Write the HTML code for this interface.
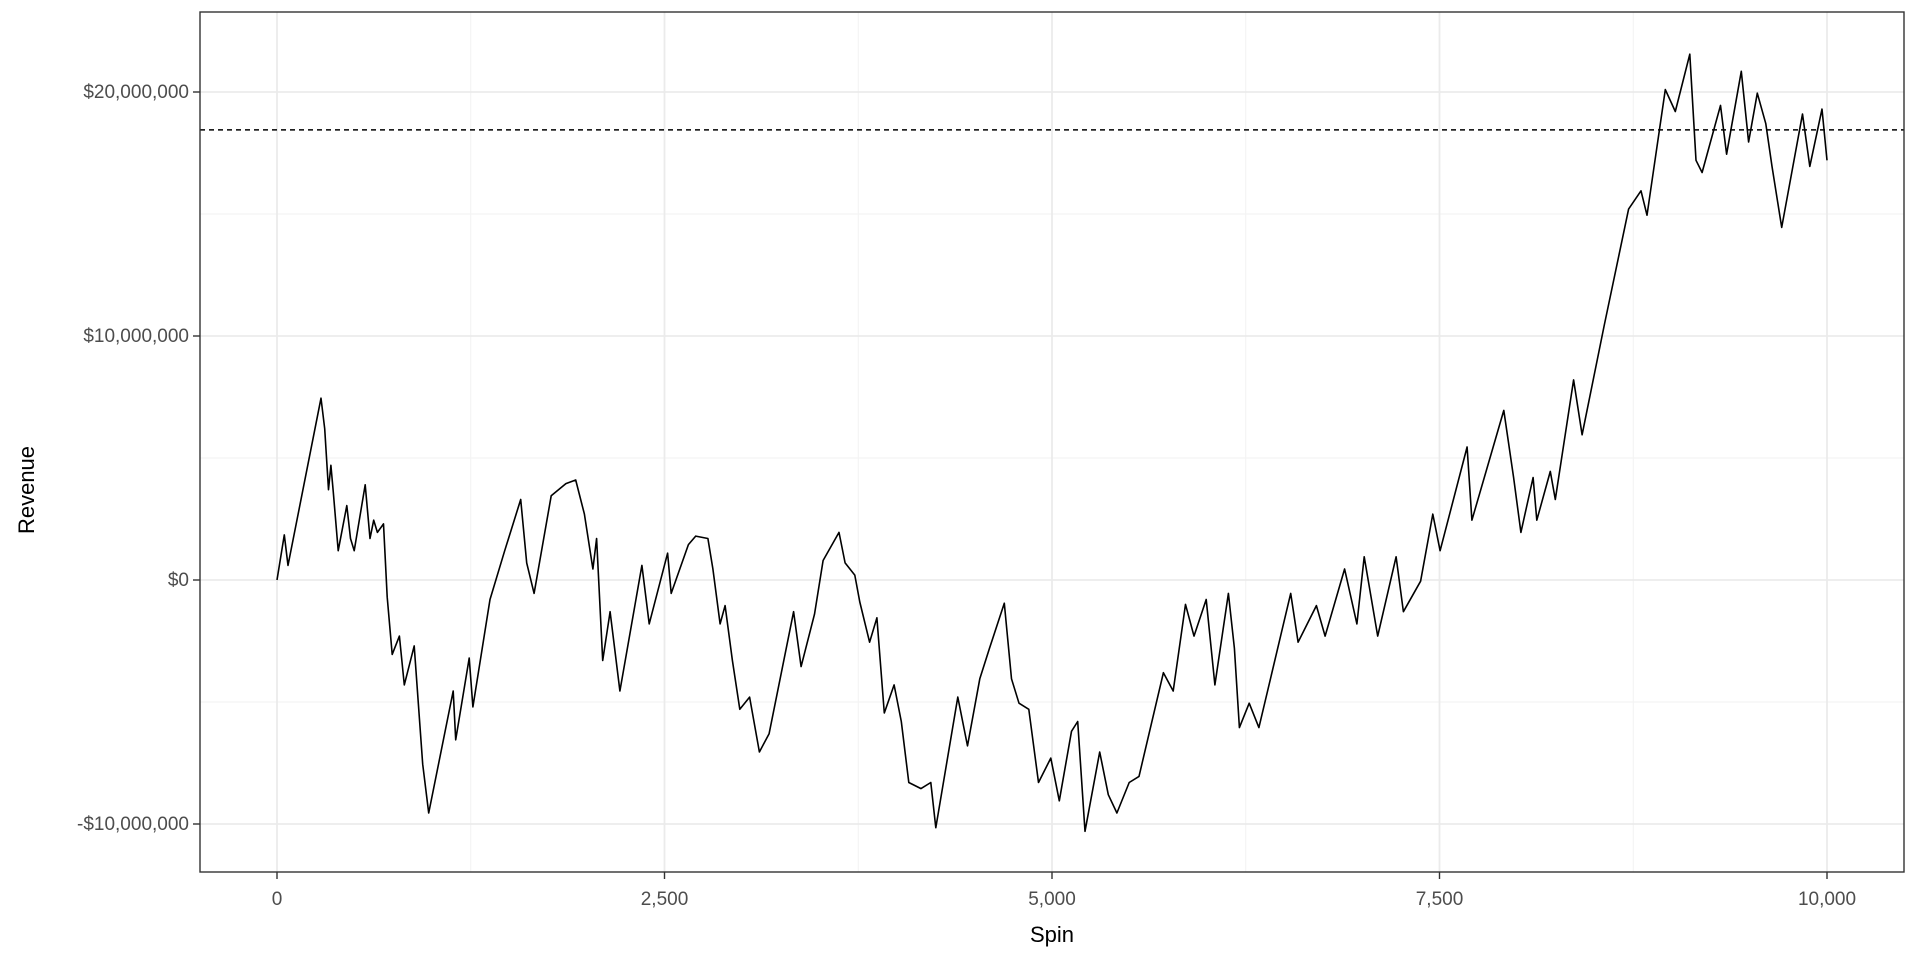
<!DOCTYPE html>
<html><head><meta charset="utf-8"><style>
body{margin:0;background:#fff;}
svg{display:block;font-family:"Liberation Sans",Arial,sans-serif;}
</style></head><body>
<svg id="chart" width="1920" height="960" viewBox="0 0 1920 960" xmlns="http://www.w3.org/2000/svg">
<rect x="0" y="0" width="1920" height="960" fill="#fff"/>
<g id="grid"></g>
<g id="marks"></g>
<rect x="200" y="12" width="1704" height="860" fill="none" stroke="#333" stroke-width="1.4"/>
<g id="axes"></g>
<text x="1052" y="942" font-size="22" text-anchor="middle" fill="#000">Spin</text>
<text x="0" y="0" font-size="22" text-anchor="middle" fill="#000" transform="translate(34,490) rotate(-90)">Revenue</text>
</svg>
<script>
const spins=[0,47,71,284,308,332,348,363,395,450,474,498,569,600,624,648,687,711,743,790,821,885,940,979,1137,1153,1240,1264,1374,1469,1572,1611,1659,1769,1864,1927,1983,2038,2062,2101,2149,2212,2354,2401,2520,2543,2654,2701,2780,2812,2859,2891,2938,2986,3049,3112,3175,3333,3381,3468,3523,3626,3665,3728,3760,3823,3870,3918,3981,4028,4076,4155,4218,4250,4392,4455,4534,4597,4692,4739,4787,4850,4913,4992,5047,5126,5166,5213,5308,5363,5419,5498,5561,5719,5782,5861,5916,5995,6051,6138,6177,6209,6272,6335,6540,6588,6706,6762,6888,6967,7014,7101,7220,7267,7378,7457,7504,7678,7709,7915,7978,8025,8104,8128,8215,8247,8365,8420,8563,8720,8800,8839,8957,9021,9115,9155,9194,9313,9352,9447,9494,9550,9605,9645,9708,9842,9889,9968,10000];
const revenueM=[0,1.85,0.6,7.45,6.2,3.7,4.7,3.6,1.2,3.05,1.7,1.2,3.9,1.7,2.45,1.95,2.3,-0.7,-3.05,-2.3,-4.3,-2.7,-7.55,-9.55,-4.55,-6.55,-3.2,-5.2,-0.8,1.2,3.3,0.7,-0.55,3.45,3.95,4.1,2.7,0.45,1.7,-3.3,-1.3,-4.55,0.6,-1.8,1.1,-0.55,1.45,1.8,1.7,0.45,-1.8,-1.05,-3.3,-5.3,-4.8,-7.05,-6.3,-1.3,-3.55,-1.4,0.8,1.95,0.7,0.2,-0.9,-2.55,-1.55,-5.45,-4.3,-5.8,-8.3,-8.55,-8.3,-10.15,-4.8,-6.8,-4.05,-2.8,-0.95,-4.05,-5.05,-5.3,-8.3,-7.3,-9.05,-6.2,-5.8,-10.3,-7.05,-8.8,-9.55,-8.3,-8.05,-3.8,-4.55,-1,-2.3,-0.8,-4.3,-0.55,-2.8,-6.05,-5.05,-6.05,-0.55,-2.55,-1.05,-2.3,0.45,-1.8,0.95,-2.3,0.95,-1.3,-0.05,2.7,1.2,5.45,2.45,6.95,4.2,1.95,4.2,2.45,4.45,3.3,8.2,5.95,10.45,15.2,15.95,14.95,20.1,19.2,21.55,17.2,16.7,19.45,17.45,20.85,17.95,19.95,18.7,16.95,14.45,19.1,16.95,19.3,17.2];
const refLineM=[18.45];
const xTicks=[0,2500,5000,7500,10000];
const xTickLabels=["0","2,500","5,000","7,500","10,000"];
const xMinor=[1250,3750,6250,8750];
const yTicks=[-10,0,10,20];
const yTickLabels=["-$10,000,000","$0","$10,000,000","$20,000,000"];
const yMinor=[-5,5,15];

const NS="http://www.w3.org/2000/svg";
const PL=200,PR=1904,PT=12,PB=872;
function sx(v){return 277+(v/10000)*(1827-277);}
function sy(m){return 580-m*24.4;}
function mk(tag,attrs,parent){const e=document.createElementNS(NS,tag);for(const k in attrs)e.setAttribute(k,attrs[k]);parent.appendChild(e);return e;}
const grid=document.getElementById('grid'),marks=document.getElementById('marks'),axes=document.getElementById('axes');
xMinor.forEach(v=>{const l=mk('line',{x1:sx(v),x2:sx(v),y1:PT,y2:PB,stroke:'#f2f2f2','stroke-width':1},grid);

});
yMinor.forEach(v=>{const l=mk('line',{x1:PL,x2:PR,y1:sy(v),y2:sy(v),stroke:'#f2f2f2','stroke-width':1},grid);

});
xTicks.forEach((v,i)=>{const l=mk('line',{x1:sx(v),x2:sx(v),y1:PT,y2:PB,stroke:'#ebebeb','stroke-width':1.8},grid);


const t=mk('line',{x1:sx(v),x2:sx(v),y1:PB,y2:PB+7,stroke:'#333','stroke-width':1.4},axes);


const tx=mk('text',{x:sx(v),y:905,'font-size':19,'text-anchor':'middle',fill:'#4d4d4d'},axes);tx.textContent=xTickLabels[i];

});
yTicks.forEach((v,i)=>{const l=mk('line',{x1:PL,x2:PR,y1:sy(v),y2:sy(v),stroke:'#ebebeb','stroke-width':1.8},grid);


const t=mk('line',{x1:PL-7,x2:PL,y1:sy(v),y2:sy(v),stroke:'#333','stroke-width':1.4},axes);


const tx=mk('text',{x:189,y:sy(v)+6,'font-size':19,'text-anchor':'end',fill:'#4d4d4d'},axes);tx.textContent=yTickLabels[i];

});
const d=spins.map((s,i)=>(i?'L':'M')+sx(s).toFixed(1)+','+sy(revenueM[i]).toFixed(1)).join(' ');
const p=mk('path',{d:d,fill:'none',stroke:'#000','stroke-width':1.6,'stroke-linejoin':'round'},marks);


refLineM.forEach(v=>{const l=mk('line',{x1:PL,x2:PR,y1:sy(v),y2:sy(v),stroke:'#000','stroke-width':1.5,'stroke-dasharray':'5,4'},marks);

});
</script>
</body></html>
